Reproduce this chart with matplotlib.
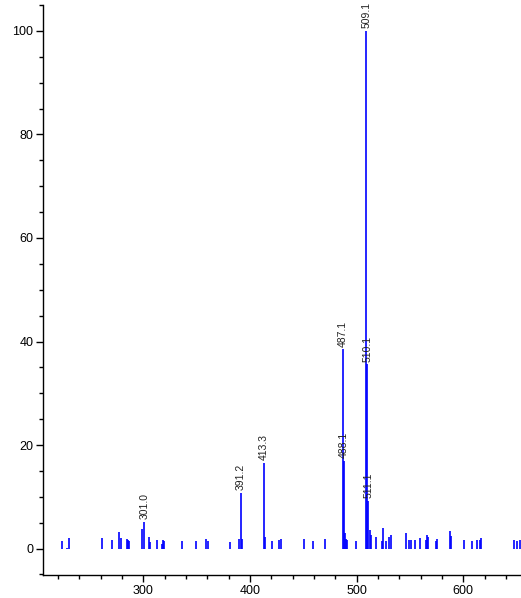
import matplotlib.pyplot as plt
from matplotlib.ticker import MultipleLocator

plt.rcParams['font.family'] = ['Liberation Sans', 'DejaVu Sans']

# m/z and relative intensity of every peak
mz = [223.9, 228.0, 229.9, 261.6, 271.0, 277.6, 278.6, 284.2, 285.2, 287.0,
      298.4, 301.0, 305.0, 306.0, 312.6, 317.6, 318.6, 319.5, 336.5, 349.4,
      358.8, 361.0, 381.5, 389.4, 391.2, 392.1, 413.3, 414.3, 420.3, 427.5,
      429.4, 450.9, 459.4, 470.6, 487.1, 488.1, 489.4, 490.3, 491.3, 499.7,
      509.1, 510.1, 511.1, 512.1, 513.0, 518.4, 524.0, 525.0, 527.8, 530.6,
      532.5, 546.5, 549.4, 551.2, 555.0, 559.6, 565.3, 566.2, 567.2, 574.7,
      575.6, 587.8, 588.8, 601.0, 608.5, 613.2, 616.0, 617.0, 647.9, 650.7,
      653.5]
intensity = [1.4, 0.1, 2.0, 2.0, 1.6, 3.2, 2.0, 1.8, 1.7, 1.5,
             3.7, 5.1, 2.2, 1.3, 1.6, 0.8, 1.6, 1.4, 1.4, 1.4,
             1.8, 1.4, 1.2, 1.8, 10.7, 1.8, 16.6, 2.2, 1.4, 1.6,
             1.8, 1.8, 1.4, 1.8, 38.5, 17.0, 3.0, 1.8, 1.6, 1.4,
             100.0, 35.6, 9.2, 3.5, 2.6, 2.2, 1.4, 3.9, 1.4, 2.2,
             2.6, 3.0, 1.6, 1.6, 1.6, 2.0, 1.6, 2.6, 2.2, 1.4,
             1.8, 3.4, 2.4, 1.6, 1.4, 1.6, 1.6, 2.0, 1.6, 1.4,
             1.6]

labels = ['301.0', '391.2', '413.3', '487.1', '488.1', '509.1', '510.1', '511.1']

fig = plt.figure(figsize=(5.21, 5.98), dpi=100)
ax = fig.add_axes([43 / 521, 23 / 598, 478 / 521, 570 / 598])

ax.vlines(mz, 0, intensity, colors='#0000ff', linewidth=1.2)

for m, h in zip(mz, intensity):
    if f'{m:.1f}' in labels:
        ax.annotate(f'{m:.1f}', (m, h), xytext=(0, 2), textcoords='offset points',
                    rotation=90, ha='center', va='bottom', fontsize=7.5, color='#222222')

ax.set_xlim(205.9, 654.1)
ax.set_ylim(-5.1, 105.0)
ax.xaxis.set_major_locator(MultipleLocator(100))
ax.xaxis.set_minor_locator(MultipleLocator(20))
ax.yaxis.set_major_locator(MultipleLocator(20))
ax.yaxis.set_minor_locator(MultipleLocator(5))
ax.tick_params(which='major', length=5, width=1, labelsize=9, pad=2)
ax.tick_params(which='minor', length=3, width=1)

for s in ['top', 'right']:
    ax.spines[s].set_visible(False)
for s in ['left', 'bottom']:
    ax.spines[s].set_linewidth(1.0)

fig.savefig('out.png', dpi=100)
